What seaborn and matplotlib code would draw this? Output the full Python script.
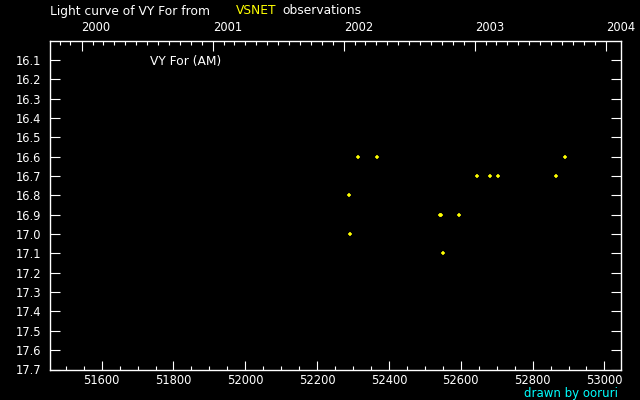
#!/usr/bin/env python3
"""Light curve of VY For (VSNET observations), black-background style."""

import numpy as np
import pandas as pd
import matplotlib
matplotlib.use("Agg")
import matplotlib.pyplot as plt
import seaborn as sns
from matplotlib.ticker import FixedLocator, MultipleLocator

# Observations (MJD, magnitude)
mjd = [52289, 52292, 52314, 52367, 52543, 52545, 52551, 52596,
       52646, 52682, 52704, 52866, 52891]
mag = [16.8, 17.0, 16.6, 16.6, 16.9, 16.9, 17.1, 16.9,
       16.7, 16.7, 16.7, 16.7, 16.6]

years = [2000, 2001, 2002, 2003, 2004]
mag_ticks = [16.1, 16.2, 16.3, 16.4, 16.5, 16.6, 16.7, 16.8, 16.9,
             17.0, 17.1, 17.2, 17.3, 17.4, 17.5, 17.6, 17.7]

MJD0 = pd.Timestamp("1858-11-17")


def to_mjd(ts):
    return (pd.DatetimeIndex(ts) - MJD0).days.values


df = pd.DataFrame({"mjd": mjd, "mag": mag})

sns.set_style("ticks", {"axes.facecolor": "black", "figure.facecolor": "black",
                        "axes.edgecolor": "white", "xtick.color": "white",
                        "ytick.color": "white", "text.color": "white"})
plt.rcParams["font.family"] = ["DejaVu Sans"]
plt.rcParams["font.size"] = 8

fig = plt.figure(figsize=(6.4, 4.0), dpi=100)
ax = fig.add_axes([50.3 / 640, 30.5 / 400, 570.3 / 640, 328.8 / 400])

sns.scatterplot(data=df, x="mjd", y="mag", marker="+", color="yellow",
                s=10, linewidth=1.1, ax=ax)

ax.set_xlim(51457, 53045)
ax.set_ylim(17.7, 16.0)
ax.set_xlabel("")
ax.set_ylabel("")

for s in ax.spines.values():
    s.set_color("white")
    s.set_linewidth(1.0)

# bottom axis: MJD
ax.xaxis.set_major_locator(MultipleLocator(200))
ax.xaxis.set_minor_locator(MultipleLocator(50))
ax.tick_params(axis="x", which="major", direction="in", length=6.5, width=0.8,
               colors="white", labelsize=8.3, pad=3, top=False)
ax.tick_params(axis="x", which="minor", direction="in", length=3, width=0.8,
               colors="white", top=False)

# left/right axis: magnitude
ax.yaxis.set_major_locator(FixedLocator(mag_ticks))
ax.set_yticklabels([f"{v:.1f}" for v in mag_ticks])
ax.tick_params(axis="y", which="major", direction="in", length=7.2, width=0.8,
               colors="white", labelsize=8.3, pad=6.5, left=True, right=True)

# top axis: calendar years and months
top = ax.twiny()
top.set_xlim(ax.get_xlim())
year_mjd = to_mjd([f"{y}-01-01" for y in years])
month_mjd = to_mjd(pd.date_range("1999-10-01", "2004-01-01", freq="MS"))
top.xaxis.set_major_locator(FixedLocator(year_mjd))
top.xaxis.set_minor_locator(FixedLocator(month_mjd))
top.set_xticklabels([str(y) for y in years], ha="left")
top.tick_params(axis="x", which="major", direction="in", length=7, width=0.8,
                colors="white", labelsize=8.3, pad=4.5)
top.tick_params(axis="x", which="minor", direction="in", length=3, width=0.8,
                colors="white")
for s in top.spines.values():
    s.set_visible(False)

# header and annotations
fig.text(50 / 640, 1 - 11 / 400, "Light curve of VY For from", color="white",
         fontsize=8.8, va="center", ha="left")
fig.text(236 / 640, 1 - 11 / 400, "VSNET", color="yellow",
         fontsize=8.8, va="center", ha="left")
fig.text(282 / 640, 1 - 11 / 400, "observations", color="white",
         fontsize=8.8, va="center", ha="left")
fig.text(150 / 640, 1 - 61 / 400, "VY For (AM)", color="white",
         fontsize=8.8, va="center", ha="left")
fig.text(618 / 640, 1 - 393 / 400, "drawn by ooruri", color="cyan",
         fontsize=8.5, va="center", ha="right")

fig.savefig("out.png", dpi=100, facecolor="black")
plt.close(fig)
